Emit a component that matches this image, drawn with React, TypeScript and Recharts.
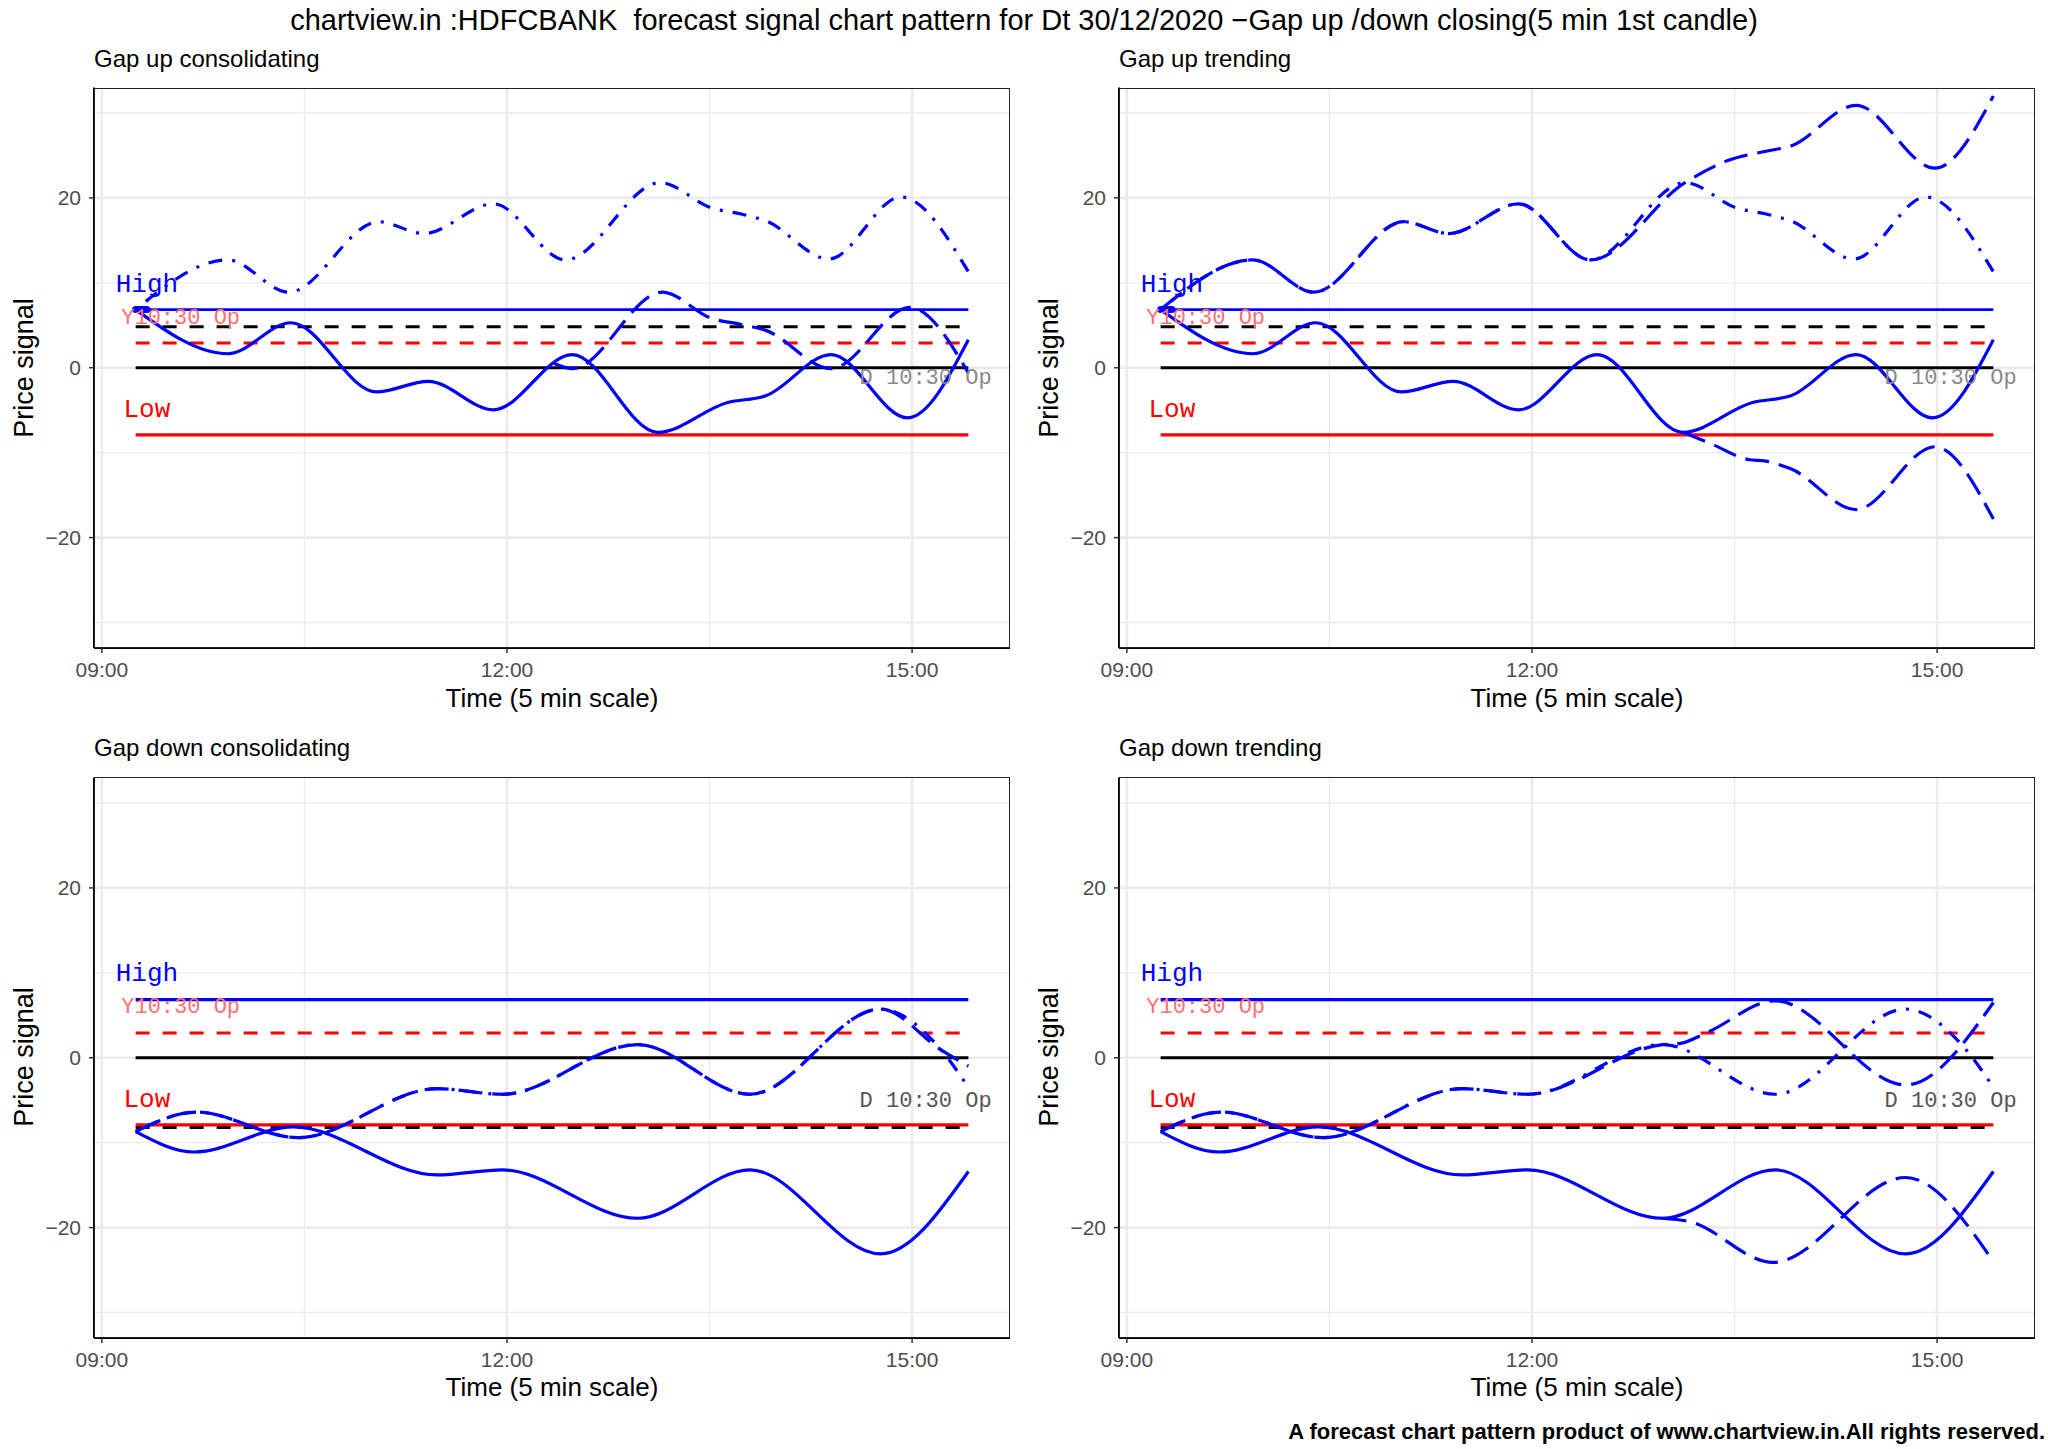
import React from "react";
import {
  LineChart,
  Line,
  XAxis,
  YAxis,
  CartesianGrid,
  ReferenceDot,
} from "recharts";

type Pair = [number, number];

const SANS = "'Liberation Sans', Arial, Helvetica, sans-serif";
const MONO = "'Liberation Mono', 'Courier New', monospace";
const BLUE = "#0000ff";
const RED = "#ff0000";

// x values are minutes of the day (555 = 09:15, 925 = 15:25)
const SESSION = [555, 925];
const FIRST_CANDLE = [555, 560];
const X_TICKS = [540, 720, 900];
const X_MINOR = [630, 810];
const Y_TICKS = [-20, 0, 20];
const Y_MINOR = [-30, -10, 10, 30];

// levels
const HIGH = 6.85;
const LOW = -7.9;
const Y_OPEN = 2.9; // red dashed
const D_OPEN_UP = 4.83; // black dashed, gap up
const D_OPEN_DOWN = -8.2; // black dashed, gap down

// gap up signals
const signalUp: Pair[] = [
  [555, 6.85], [596, 1.65], [624, 5.3], [662, -2.85], [685, -1.6], [714, -4.95],
  [749, 1.55], [787, -7.6], [818, -4.1], [835, -3.3], [864, 1.55], [898, -5.9], [925, 3.3],
];
const upperUp: Pair[] = [
  [555, 6.85], [596, 12.7], [623, 8.9], [663, 17.2], [683, 15.8], [714, 19.3],
  [746, 12.7], [788, 21.8], [811, 18.8], [824, 18.1], [835, 17.3], [863, 12.8], [895, 20.1], [925, 11.3],
];
const midUp: Pair[] = [
  [741, 0.5], [749, -0.1], [789, 8.9], [811, 5.8], [824, 5.1], [835, 4.4], [864, -0.1], [899, 7.1], [925, -0.6],
];
const trendUpHigh: Pair[] = [
  [555, 6.85], [596, 12.7], [623, 8.9], [663, 17.2], [683, 15.8], [714, 19.3],
  [746, 12.7], [788, 21.8], [807, 24.4], [824, 25.5], [835, 26.1], [864, 30.9], [899, 23.5], [925, 32.0],
];
const trendUpLow: Pair[] = [
  [787, -7.6], [800, -9.0], [816, -10.8], [824, -11.0], [835, -11.9], [864, -16.7], [899, -9.3], [925, -17.8],
];

// gap down signals
const signalDown: Pair[] = [
  [555, -8.7], [581, -11.1], [625, -8.15], [689, -13.8], [718, -13.2], [778, -18.9],
  [828, -13.2], [886, -23.1], [925, -13.4],
];
const upperDown: Pair[] = [
  [555, -8.7], [582, -6.4], [627, -9.4], [689, -3.64], [718, -4.3], [778, 1.55],
  [828, -4.3], [886, 5.73], [913, 0.9], [925, -3.5],
];
const midDown: Pair[] = [
  [555, -8.7], [582, -6.4], [627, -9.4], [689, -3.64], [718, -4.3], [778, 1.55],
  [828, -4.3], [886, 5.73], [913, 0.9], [925, -1.0],
];
const trendDownHigh: Pair[] = [
  [555, -8.7], [582, -6.4], [627, -9.4], [689, -3.64], [718, -4.3], [778, 1.55],
  [786, 1.7], [798, 3.0], [828, 6.7], [886, -3.2], [925, 6.5],
];
const trendDownLow: Pair[] = [
  [778, -18.9], [790, -19.3], [827, -24.1], [886, -14.1], [925, -24.0],
];

const DASH = "14 13";
const LONGDASH = "24 10";
const DOTDASH = "3 10 14 10";

const CHART_W = 1020;
const CHART_H = 650;
const PLOT_L = 94;
const PLOT_T = 7.5;
const PLOT_W = 916;
const PLOT_H = 560.5;

type Curve = { data: Pair[]; dash?: string };

type PanelCfg = {
  title: string;
  left: number;
  top: number;
  openLevel: number;
  candle: boolean;
  highWidth: number;
  labels: { high: number; y: number; low: number; d: number };
  dColor: string;
  curves: Curve[];
};

const PANELS: PanelCfg[] = [
  {
    title: "Gap up consolidating",
    left: 0,
    top: 80,
    openLevel: D_OPEN_UP,
    candle: true,
    highWidth: 2.8,
    labels: { high: 9.8, y: 5.83, low: -4.95, d: -1.3 },
    dColor: "#8a8a8a",
    curves: [
      { data: signalUp },
      { data: upperUp, dash: DOTDASH },
      { data: midUp, dash: LONGDASH },
    ],
  },
  {
    title: "Gap up trending",
    left: 1025,
    top: 80,
    openLevel: D_OPEN_UP,
    candle: true,
    highWidth: 2.8,
    labels: { high: 9.8, y: 5.83, low: -4.95, d: -1.3 },
    dColor: "#8a8a8a",
    curves: [
      { data: signalUp },
      { data: upperUp, dash: DOTDASH },
      { data: trendUpHigh, dash: LONGDASH },
      { data: trendUpLow, dash: LONGDASH },
    ],
  },
  {
    title: "Gap down consolidating",
    left: 0,
    top: 769.5,
    openLevel: D_OPEN_DOWN,
    candle: false,
    highWidth: 3.4,
    labels: { high: 9.83, y: 5.86, low: -5.0, d: -5.15 },
    dColor: "#555555",
    curves: [
      { data: signalDown },
      { data: upperDown, dash: DOTDASH },
      { data: midDown, dash: LONGDASH },
    ],
  },
  {
    title: "Gap down trending",
    left: 1025,
    top: 769.5,
    openLevel: D_OPEN_DOWN,
    candle: false,
    highWidth: 3.4,
    labels: { high: 9.83, y: 5.86, low: -5.0, d: -5.15 },
    dColor: "#555555",
    curves: [
      { data: signalDown },
      { data: upperDown, dash: DOTDASH },
      { data: trendDownHigh, dash: LONGDASH },
      { data: trendDownLow, dash: LONGDASH },
    ],
  },
];

const toPts = (pairs: Pair[]) => pairs.map(([t, v]) => ({ t, v }));
const level = (v: number, range: number[]) => range.map((t) => ({ t, v }));

const fmtTime = (m: number) =>
  `${String(Math.floor(m / 60)).padStart(2, "0")}:${String(m % 60).padStart(2, "0")}`;
const fmtY = (v: number) => (v < 0 ? `\u2212${Math.abs(v)}` : `${v}`);

const textMark = (
  key: string,
  x: number,
  y: number,
  text: string,
  color: string,
  size: number
) => (
  <ReferenceDot
    key={key}
    x={x}
    y={y}
    r={0}
    ifOverflow="visible"
    shape={(p: any) => (
      <text
        x={p.cx}
        y={p.cy}
        textAnchor="middle"
        dominantBaseline="central"
        fill={color}
        fontSize={size}
        fontFamily={MONO}
      >
        {text}
      </text>
    )}
  />
);

const Label = ({
  x,
  y,
  text,
  size,
  anchor = "middle",
  weight = 400,
  rotate = false,
}: {
  x: number;
  y: number;
  text: string;
  size: number;
  anchor?: "start" | "middle" | "end";
  weight?: number;
  rotate?: boolean;
}) => {
  const tx = anchor === "start" ? "0" : anchor === "end" ? "-100%" : "-50%";
  return (
    <div
      style={{
        position: "absolute",
        left: x,
        top: y,
        transform: `translate(${tx}, -50%)${rotate ? " rotate(-90deg)" : ""}`,
        fontFamily: SANS,
        fontSize: size,
        fontWeight: weight,
        lineHeight: 1,
        whiteSpace: "pre",
        color: "#000",
      }}
    >
      {text}
    </div>
  );
};

const Panel = ({ cfg }: { cfg: PanelCfg }) => {
  const px = cfg.left + PLOT_L;
  const py = cfg.top + PLOT_T;
  return (
    <>
      <div style={{ position: "absolute", left: cfg.left, top: cfg.top }}>
        <LineChart
          width={CHART_W}
          height={CHART_H}
          margin={{ top: PLOT_T, right: CHART_W - PLOT_L - PLOT_W, bottom: 0, left: 0 }}
        >
          <CartesianGrid
            horizontalValues={Y_MINOR}
            verticalValues={X_MINOR}
            stroke="#ebebeb"
            strokeWidth={1.3}
          />
          <CartesianGrid
            horizontalValues={Y_TICKS}
            verticalValues={X_TICKS}
            stroke="#ebebeb"
            strokeWidth={2.6}
          />
          <XAxis
            type="number"
            dataKey="t"
            domain={[536.5, 943.5]}
            allowDataOverflow
            ticks={X_TICKS}
            tickFormatter={fmtTime}
            height={CHART_H - PLOT_T - PLOT_H}
            tickSize={5}
            tickMargin={9}
            axisLine={{ stroke: "#000", strokeWidth: 2 }}
            tickLine={{ stroke: "#333", strokeWidth: 1.5 }}
            tick={{ fontSize: 21, fill: "#4d4d4d", fontFamily: SANS }}
          />
          <YAxis
            type="number"
            dataKey="v"
            domain={[-33, 33]}
            allowDataOverflow
            ticks={Y_TICKS}
            tickFormatter={fmtY}
            width={PLOT_L}
            tickSize={5}
            tickMargin={8}
            axisLine={{ stroke: "#000", strokeWidth: 2 }}
            tickLine={{ stroke: "#333", strokeWidth: 1.5 }}
            tick={{ fontSize: 21, fill: "#4d4d4d", fontFamily: SANS }}
          />
          <Line data={level(HIGH, SESSION)} dataKey="v" type="linear" stroke={BLUE} strokeWidth={cfg.highWidth} dot={false} activeDot={false} isAnimationActive={false} />
          <Line data={level(cfg.openLevel, SESSION)} dataKey="v" type="linear" stroke="#000" strokeWidth={3} strokeDasharray={DASH} dot={false} activeDot={false} isAnimationActive={false} />
          <Line data={level(Y_OPEN, SESSION)} dataKey="v" type="linear" stroke={RED} strokeWidth={3} strokeDasharray={DASH} dot={false} activeDot={false} isAnimationActive={false} />
          <Line data={level(0, SESSION)} dataKey="v" type="linear" stroke="#000" strokeWidth={3} dot={false} activeDot={false} isAnimationActive={false} />
          <Line data={level(LOW, SESSION)} dataKey="v" type="linear" stroke={RED} strokeWidth={3.2} dot={false} activeDot={false} isAnimationActive={false} />
          {cfg.candle && (
            <Line data={level(HIGH, FIRST_CANDLE)} dataKey="v" type="linear" stroke={BLUE} strokeWidth={7} strokeLinecap="round" dot={false} activeDot={false} isAnimationActive={false} />
          )}
          {cfg.curves.map((c, i) => (
            <Line
              key={`curve-${i}`}
              data={toPts(c.data)}
              dataKey="v"
              type="monotone"
              stroke={BLUE}
              strokeWidth={3.2}
              strokeDasharray={c.dash}
              dot={false}
              activeDot={false}
              isAnimationActive={false}
            />
          ))}
          {textMark("high", 560, cfg.labels.high, "High", BLUE, 26)}
          {textMark("yop", 575, cfg.labels.y, "Y10:30 Op", "#ff7070", 22)}
          {textMark("low", 560, cfg.labels.low, "Low", RED, 26)}
          {textMark("dop", 906, cfg.labels.d, "D 10:30 Op", cfg.dColor, 22)}
        </LineChart>
      </div>
      <div
        style={{
          position: "absolute",
          left: px,
          top: py,
          width: PLOT_W,
          height: PLOT_H,
          border: "1.5px solid #222",
          boxSizing: "border-box",
          pointerEvents: "none",
        }}
      />
      <Label x={px} y={py - 28.7} text={cfg.title} size={24} anchor="start" />
      <Label x={px - 70.5} y={py + PLOT_H / 2} text="Price signal" size={27} rotate />
      <Label x={px + PLOT_W / 2} y={py + 610} text="Time (5 min scale)" size={26} />
    </>
  );
};

export default function App() {
  return (
    <div
      style={{
        position: "absolute",
        left: 0,
        top: 0,
        width: 2048,
        height: 1449,
        background: "#fff",
        overflow: "hidden",
      }}
    >
      <Label
        x={1024}
        y={19.6}
        text="chartview.in :HDFCBANK  forecast signal chart pattern for Dt 30/12/2020 −Gap up /down closing(5 min 1st candle)"
        size={29}
      />
      {PANELS.map((p) => (
        <Panel key={p.title} cfg={p} />
      ))}
      <Label
        x={2045}
        y={1431.5}
        text="A forecast chart pattern product of www.chartview.in.All rights reserved."
        size={22}
        anchor="end"
        weight={700}
      />
    </div>
  );
}
